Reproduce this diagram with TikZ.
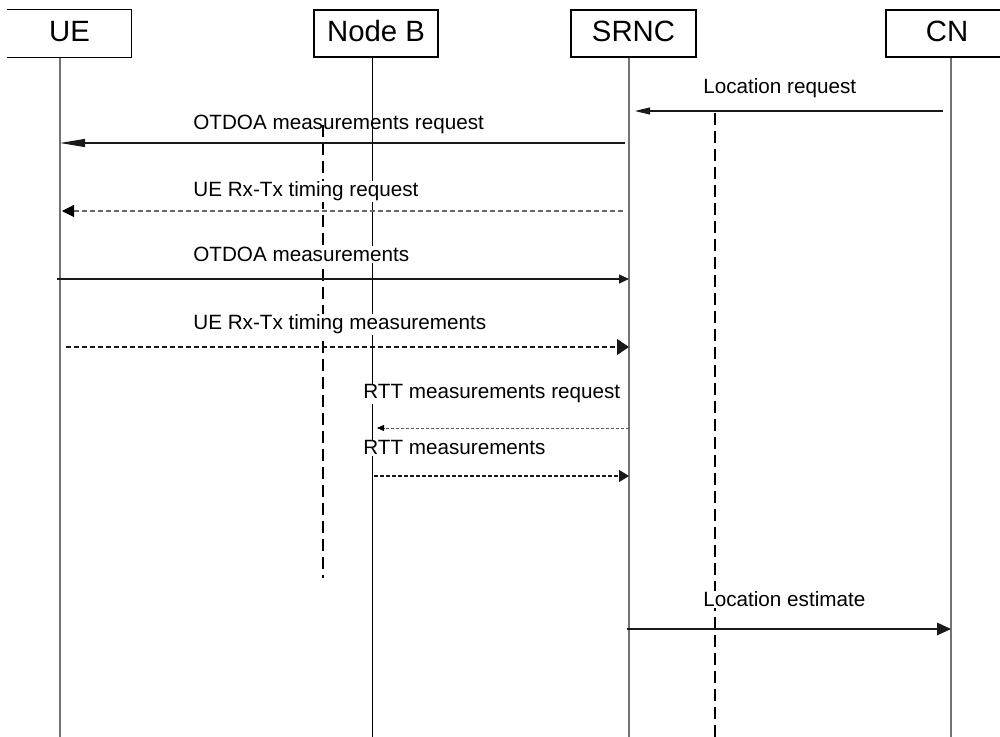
\documentclass[tikz,border=0pt]{standalone}
\usepackage{fontspec}
\setmainfont{Liberation Sans}
\usetikzlibrary{arrows.meta}
\begin{document}
\begin{tikzpicture}[x=0.75pt,y=-0.75pt,
  hdr/.style={draw=black, line width=0.8pt, minimum height=35.25pt, inner sep=0pt,
    font=\fontsize{22}{26}\selectfont, text height=12.3pt, text depth=0pt},
  boxline/.style={draw=black, line width=0.8pt},
  life/.style={draw=black!55, line width=1pt},
  lifeb/.style={draw=black, line width=0.75pt},
  vdash/.style={draw=black, line width=0.8pt, dash pattern=on 9pt off 4.5pt},
  msg/.style={draw=black!90, line width=0.85pt},
  dmsg/.style={msg, dash pattern=on 3.75pt off 2.25pt},
  lbl/.style={anchor=base west, font=\fontsize{15.5}{18}\selectfont, inner sep=0.8pt, fill=white}
]
\useasboundingbox (0,0) rectangle (1000,737);
\clip (0,0) rectangle (1000,737);

% headers
\node[hdr, draw=none, minimum width=92.25pt] (ue) at (69.5,33.5) {UE};
\draw[boxline] (ue.north west) -- (ue.north east) -- (ue.south east) -- (ue.south west);
\node[hdr, minimum width=93pt] (nb) at (376,33.5) {Node B};
\node[hdr, minimum width=93.75pt] (srnc) at (633.5,33.5) {SRNC};
\node[hdr, minimum width=91.5pt] (cn) at (947,33.5) {CN};

% lifeline coordinates
\coordinate (ueL) at (ue.south -| 60,0);
\coordinate (nbL) at (nb.south -| 372,0);
\coordinate (srL) at (srnc.south -| 629,0);
\coordinate (cnL) at (cn.south -| 951,0);
\coordinate (ueE) at (60,737);
\coordinate (nbE) at (372,737);
\coordinate (srE) at (629,737);
\coordinate (cnE) at (951,737);

\draw[life] (ueL) -- (ueE);
\draw[lifeb] (nbL) -- (nbE);
\draw[life] (srL) -- (srE);
\draw[life] (cnL) -- (cnE);

% dashed vertical markers
\coordinate (d1a) at (323,125);
\coordinate (d1b) at (323,578);
\coordinate (d2a) at (715,113);
\coordinate (d2b) at (715,737);
\draw[vdash] (d1a) -- (d1b);
\draw[vdash] (d2a) -- (d2b);

% labels
\node[lbl] (l1) at (702,94) {Location request};
\node[lbl, fill=none] (l2) at (192,130) {OTDOA measurements request};
\node[lbl] (l3) at (192,197) {UE Rx-Tx timing request};
\node[lbl] (l4) at (192,262) {OTDOA measurements};
\node[lbl] (l5) at (192,330) {UE Rx-Tx timing measurements};
\node[lbl] (l6) at (362,399) {RTT measurements request};
\node[lbl] (l7) at (362,455) {RTT measurements};
\node[lbl] (l8) at (702,607) {Location estimate};

% messages
\draw[msg, -{Triangle[length=11.25pt,width=5.25pt]}, shorten <=6pt, shorten >=4.5pt]
  (cnL |- 0,111) -- (srL |- 0,111);
\draw[msg, -{Triangle[length=18.75pt,width=6pt]}, shorten <=3pt]
  (srL |- 0,143) -- (ueL |- 0,143);
\draw[dmsg, draw=black!60, -{Triangle[length=9pt,width=9pt,color=black]}, shorten <=4.5pt, shorten >=1.5pt]
  (srL |- 0,211) -- (ueL |- 0,211);
\draw[msg, -{Triangle[length=7.5pt,width=6.75pt]}, shorten <=-2.25pt]
  (ueL |- 0,279) -- (srL |- 0,279);
\draw[dmsg, -{Triangle[length=9pt,width=12pt]}, shorten <=4.5pt]
  (ueL |- 0,347) -- (srL |- 0,347);
\draw[msg, draw=black!65, line width=0.6pt, dash pattern=on 2.25pt off 1.5pt,
  -{Triangle[length=5.25pt,width=4.5pt,color=black]}, shorten >=3.75pt]
  (srL |- 0,428) -- (nbL |- 0,428);
\draw[msg, dash pattern=on 3pt off 1.5pt, -{Triangle[length=7.5pt,width=9pt]}, shorten <=1.5pt]
  (nbL |- 0,476) -- (srL |- 0,476);
\draw[msg, -{Triangle[length=10.5pt,width=9.5pt]}, shorten <=-1.5pt]
  (srL |- 0,629) -- (cnL |- 0,629);
\end{tikzpicture}
\end{document}
